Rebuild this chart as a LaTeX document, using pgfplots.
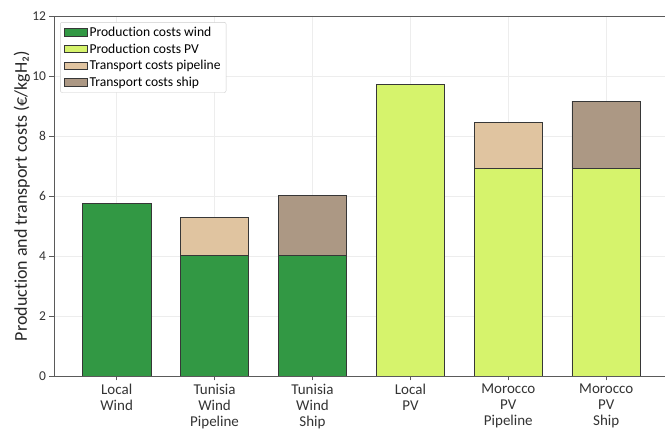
\documentclass[border=0pt]{standalone}
\usepackage{fontspec}
\setmainfont[Ligatures=NoCommon]{Carlito}
\usepackage{pgfplots}
\pgfplotsset{compat=1.18}

\definecolor{windc}{RGB}{50,152,68}
\definecolor{pvc}{RGB}{214,243,108}
\definecolor{pipec}{RGB}{224,196,160}
\definecolor{shipc}{RGB}{172,152,132}
\definecolor{edgec}{RGB}{55,55,55}
\definecolor{spinec}{RGB}{90,90,90}

\begin{document}
\begin{tikzpicture}
\begin{axis}[
  scale only axis,
  width=611pt, height=360pt,
  xmin=-0.64, xmax=5.6,
  ymin=0, ymax=12,
  ybar stacked,
  bar width=0.7,
  axis lines=left,
  axis line style={-, spinec, line width=0.9pt},
  tick align=outside,
  major tick length=4.5pt,
  tick style={spinec, line width=0.8pt},
  xtick={0,1,2,3,4,5},
  xticklabels={{Local\\Wind},{Tunisia\\Wind\\Pipeline},{Tunisia\\Wind\\Ship},{Local\\PV},{Morocco\\PV\\Pipeline},{Morocco\\PV\\Ship}},
  xticklabel style={align=center, font=\fontsize{15}{16}\selectfont, text=black!80},
  ytick={0,2,4,6,8,10,12},
  yticklabel style={font=\fontsize{13.5}{15}\selectfont, text=black!80},
  /pgf/number format/assume math mode=true,
  xmajorgrids, ymajorgrids,
  major grid style={black!7, line width=0.9pt},
  ylabel={Production and transport costs (€/kgH₂)},
  every axis y label/.style={at={(rel axis cs:0,0.5)}, rotate=90, anchor=base,
    yshift=27pt, font=\fontsize{18}{20}\selectfont, text=black!85},
  legend cell align=left,
  legend style={at={(rel axis cs:0.01,0.983)}, anchor=north west,
    draw=black!20, rounded corners=2pt, fill=white,
    font=\fontsize{13.6}{14}\selectfont, row sep=1.8pt, inner xsep=3.5pt, inner ysep=2.5pt},
  legend image code/.code={\draw[#1, sharp corners, draw=edgec, line width=0.7pt] (0pt,-3.7pt) rectangle (23pt,3.7pt);},
  every axis plot/.append style={draw=edgec, line width=0.8pt},
]
% production cost of wind hydrogen
\addplot[fill=windc] coordinates {(0,5.76) (1,4.03) (2,4.03) (3,0) (4,0) (5,0)};
% production cost of PV hydrogen
\addplot[fill=pvc] coordinates {(0,0) (1,0) (2,0) (3,9.72) (4,6.93) (5,6.93)};
% transport by pipeline
\addplot[fill=pipec] coordinates {(0,0) (1,1.24) (2,0) (3,0) (4,1.52) (5,0)};
% transport by ship
\addplot[fill=shipc] coordinates {(0,0) (1,0) (2,1.99) (3,0) (4,0) (5,2.23)};
\legend{Production costs wind, Production costs PV, Transport costs pipeline, Transport costs ship}
\coordinate (sw) at (rel axis cs:0,0);
\coordinate (ne) at (rel axis cs:1,1);
\draw[spinec, line width=0.9pt] (rel axis cs:0,1) -- (rel axis cs:1,1);
\end{axis}
\pgfresetboundingbox
\path ([xshift=-54pt,yshift=-55pt]sw) rectangle ([yshift=16pt]ne);
\end{tikzpicture}
\end{document}
